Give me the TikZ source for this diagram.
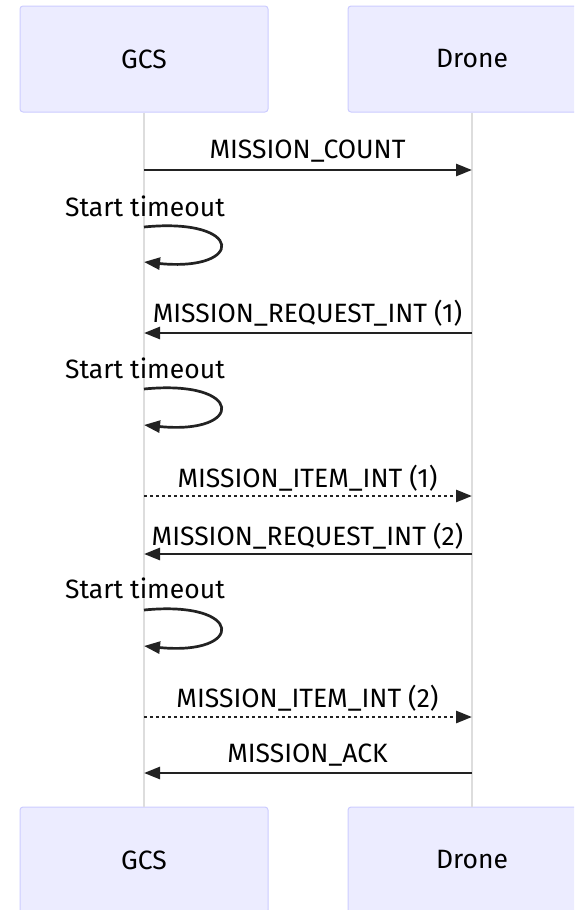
\documentclass[tikz,border=0pt]{standalone}
\usepackage{fontspec}
\setmainfont{Fira Sans}
\usetikzlibrary{arrows.meta}
\definecolor{actfill}{HTML}{ECECFF}
\definecolor{actdraw}{HTML}{CCCCFF}
\definecolor{lifeln}{HTML}{DDDDDD}
\definecolor{msgc}{HTML}{222222}
\tikzset{
  actor/.style={draw=actdraw, fill=actfill, line width=1pt, rounded corners=3pt,
    minimum width=248pt, minimum height=106pt, inner sep=0pt, font=\fontsize{26.5}{30}\selectfont, text=black},
  lifeline/.style={draw=lifeln, line width=1.8pt},
  msg/.style={draw=msgc, line width=2.7pt, -{Triangle[length=16pt,width=12pt]}},
  dmsg/.style={msg, dash pattern=on 3pt off 3pt},
  lbl/.style={anchor=base, inner sep=0pt, font=\fontsize{26.5}{30}\selectfont, text=black},
}
\begin{document}
\begin{tikzpicture}[x=1pt,y=-1pt]
\useasboundingbox (0,0) rectangle (574,910);
\clip (0,0) rectangle (574,910);
% actors
\node[actor] (gtop) at (144,59) {GCS};
\node[actor] (dtop) at (472,59) {Drone};
\node[actor] (gbot) at (144,860) {GCS};
\node[actor] (dbot) at (472,860) {Drone};
% lifelines
\draw[lifeline] (gtop.south) -- (gbot.north);
\draw[lifeline] (dtop.south) -- (dbot.north);
% message endpoints
\foreach \n/\y in {1/170,2/333,3/496,4/554,5/717,6/773}{
  \coordinate (g\n) at (144,\y);
  \coordinate (d\n) at (472,\y);
}
\coordinate (la1) at (144,227); \coordinate (lb1) at (144,262);
\coordinate (la2) at (144,389); \coordinate (lb2) at (144,425);
\coordinate (la3) at (144,610); \coordinate (lb3) at (144,646);
% messages
\draw[msg] (g1) -- (d1);
\node[lbl] (t1) at (307.5,158) {MISSION\_COUNT};
\node[lbl] (s1) at (145,216) {Start timeout};
\draw[msg] (la1) .. controls +(101,-10) and +(101,10) .. (lb1);
\draw[msg] (d2) -- (g2);
\node[lbl] (t2) at (307.5,322) {MISSION\_REQUEST\_INT (1)};
\node[lbl] (s2) at (145,378) {Start timeout};
\draw[msg] (la2) .. controls +(101,-10) and +(101,10) .. (lb2);
\draw[dmsg] (g3) -- (d3);
\node[lbl] (t3) at (307.5,487) {MISSION\_ITEM\_INT (1)};
\draw[msg] (d4) -- (g4);
\node[lbl] (t4) at (307.5,545) {MISSION\_REQUEST\_INT (2)};
\node[lbl] (s3) at (145,598) {Start timeout};
\draw[msg] (la3) .. controls +(101,-10) and +(101,10) .. (lb3);
\draw[dmsg] (g5) -- (d5);
\node[lbl] (t5) at (307.5,707) {MISSION\_ITEM\_INT (2)};
\draw[msg] (d6) -- (g6);
\node[lbl] (t6) at (307.5,762) {MISSION\_ACK};
\end{tikzpicture}
\end{document}
